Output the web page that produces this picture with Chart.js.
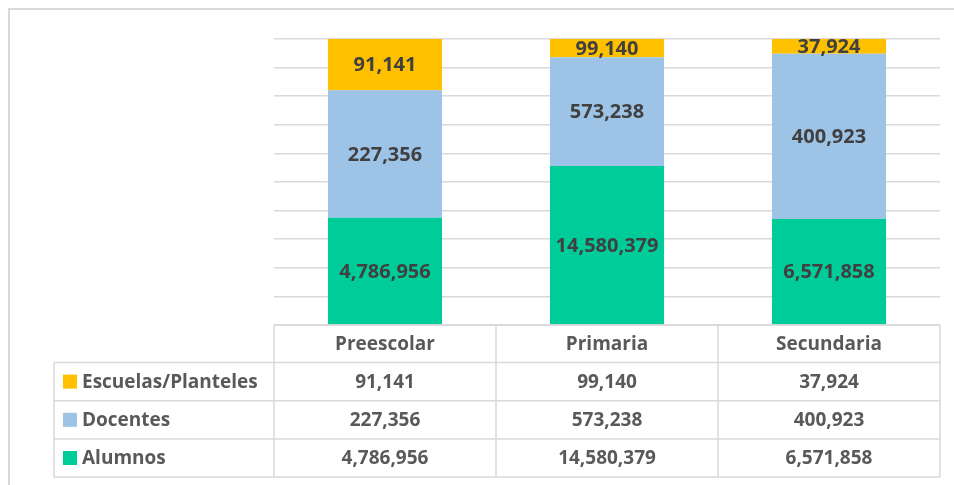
<!DOCTYPE html>
<html>
<head>
<meta charset="utf-8">
<script src="https://cdn.jsdelivr.net/npm/chart.js@4"></script>
<style>
  body { margin: 0; background: #fff; }
</style>
</head>
<body>
<canvas id="chart" width="954" height="485"></canvas>
<script>
const categories = ["Preescolar", "Primaria", "Secundaria"];
const seriesNames = ["Alumnos", "Docentes", "Escuelas/Planteles"];

// values shown in the labels and the table
const alumnos = [4786956, 14580379, 6571858];
const docentes = [227356, 573238, 400923];
const escuelas = [91141, 99140, 37924];

// segment heights (% of the bar)
const alumnosPct = [37.5, 55.6, 37.1];
const docentesPct = [44.6, 38.0, 57.7];
const escuelasPct = [17.9, 6.4, 5.2];

const colors = ["#00CC99", "#9DC3E6", "#FFC000"];
const fmt = (v) => v.toLocaleString("en-US");
const FONT = "'Open Sans', sans-serif";

const tablePlugin = {
    id: "tablePlugin",
    afterDraw(chart) {
        const ctx = chart.ctx;
        const area = chart.chartArea;
        const xs = chart.scales.x;
        const values = [alumnos, docentes, escuelas];

        // outer frame
        ctx.save();
        ctx.strokeStyle = "#D9D9D9";
        ctx.lineWidth = 2;
        ctx.beginPath();
        ctx.moveTo(9, 485);
        ctx.lineTo(9, 9);
        ctx.lineTo(954, 9);
        ctx.stroke();

        // labels inside bars
        ctx.fillStyle = "#404040";
        ctx.font = "bold 20px " + FONT;
        ctx.textAlign = "center";
        ctx.textBaseline = "middle";
        for (let d = 0; d < 3; d++) {
            const meta = chart.getDatasetMeta(d);
            meta.data.forEach((bar, j) => {
                ctx.fillText(fmt(values[d][j]), bar.x, (bar.y + bar.base) / 2 + 1);
            });
        }

        // data table
        const colW = xs.width / categories.length;
        const legendLeft = 54;
        const top = area.bottom;
        const headH = 37.5;
        const rowH = 38.2;
        const bottom = top + headH + rowH * 3;
        ctx.strokeStyle = "#D9D9D9";
        ctx.lineWidth = 1.5;
        ctx.beginPath();
        ctx.moveTo(area.left, top);
        ctx.lineTo(area.right, top);
        for (let r = 0; r <= 3; r++) {
            const y = top + headH + rowH * r;
            ctx.moveTo(legendLeft, y);
            ctx.lineTo(area.right, y);
        }
        ctx.moveTo(legendLeft, top + headH);
        ctx.lineTo(legendLeft, bottom);
        for (let c = 0; c <= categories.length; c++) {
            const x = area.left + colW * c;
            ctx.moveTo(x, top);
            ctx.lineTo(x, bottom);
        }
        ctx.stroke();

        ctx.fillStyle = "#595959";
        ctx.font = "bold 19px " + FONT;
        ctx.textAlign = "center";
        categories.forEach((c, j) => {
            ctx.fillText(c, xs.getPixelForValue(j), top + headH / 2 + 1);
        });
        const rowOrder = [2, 1, 0];
        rowOrder.forEach((d, r) => {
            const cy = top + headH + rowH * r + rowH / 2 + 1;
            ctx.fillStyle = colors[d];
            ctx.fillRect(63, cy - 8, 14, 14);
            ctx.fillStyle = "#595959";
            ctx.textAlign = "left";
            ctx.fillText(seriesNames[d], 82, cy);
            ctx.textAlign = "center";
            values[d].forEach((v, j) => {
                ctx.fillText(fmt(v), xs.getPixelForValue(j), cy);
            });
        });
        ctx.restore();
    },
};

new Chart(document.getElementById("chart"), {
    type: "bar",
    data: {
        labels: categories,
        datasets: [
            { label: seriesNames[0], data: alumnosPct, backgroundColor: colors[0] },
            { label: seriesNames[1], data: docentesPct, backgroundColor: colors[1] },
            { label: seriesNames[2], data: escuelasPct, backgroundColor: colors[2] },
        ],
    },
    options: {
        responsive: false,
        animation: false,
        devicePixelRatio: 1,
        categoryPercentage: 1,
        barPercentage: 0.514,
        layout: { padding: { left: 274, right: 14, top: 39, bottom: 160 } },
        plugins: {
            legend: { display: false },
            tooltip: { enabled: false },
        },
        scales: {
            x: { stacked: true, display: false },
            y: {
                stacked: true,
                min: 0,
                max: 100,
                ticks: { display: false, stepSize: 10 },
                grid: { color: "#D9D9D9", lineWidth: 1.5, drawTicks: false },
                border: { display: false },
            },
        },
    },
    plugins: [tablePlugin],
});
</script>
</body>
</html>
